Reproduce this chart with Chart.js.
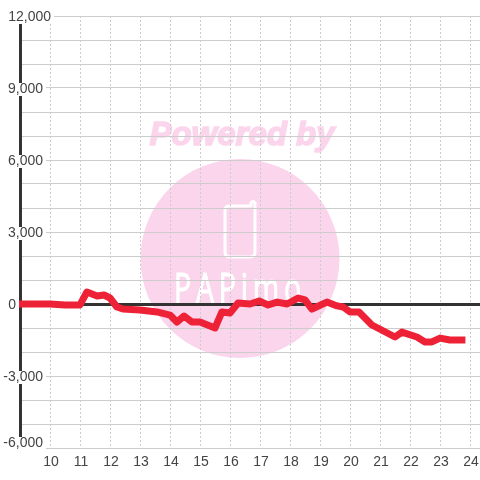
<!DOCTYPE html>
<html>
<head>
<meta charset="utf-8">
<style>
  html, body { margin: 0; padding: 0; background: #fff; }
  canvas { display: block; }
</style>
<script src="https://cdn.jsdelivr.net/npm/chart.js@4/dist/chart.umd.min.js"></script>
</head>
<body>
<canvas id="chart" width="480" height="480"></canvas>
<script>
const hours = [9, 10, 10.5, 11, 11.23, 11.57, 11.8, 12, 12.23, 12.43, 13, 13.57, 14, 14.23, 14.47, 14.73, 15, 15.5, 15.73, 16, 16.27, 16.67, 16.97, 17.27, 17.57, 17.9, 18.27, 18.5, 18.73, 19.23, 19.57, 19.77, 20, 20.3, 20.73, 21.5, 21.73, 22.23, 22.5, 22.73, 23, 23.33, 23.73];
const values = [0, 0, -40, -40, 500, 330, 375, 250, -125, -210, -250, -330, -460, -750, -500, -750, -750, -1000, -330, -375, 40, 0, 125, -40, 80, 0, 250, 170, -210, 80, -80, -125, -330, -330, -875, -1375, -1170, -1375, -1580, -1580, -1420, -1500, -1500];
const xTicks = [9, 10, 11, 12, 13, 14, 15, 16, 17, 18, 19, 20, 21, 22, 23, 24];
const yLabels = [12000, 9000, 6000, 3000, 0, -3000, -6000];

const textColor = '#333';
const labelColor = '#444';
const pink = '#fbd5ec';

// logo behind the grid
const watermark = {
  id: 'watermark',
  beforeDraw(chart) {
    const c = chart.ctx;
    c.save();
    c.fillStyle = pink;
    c.strokeStyle = pink;
    c.beginPath();
    c.arc(240, 258.5, 99.5, 0, Math.PI * 2);
    c.fill();
    c.font = 'italic bold 33px "Liberation Sans"';
    c.textAlign = 'center';
    c.textBaseline = 'alphabetic';
    c.lineWidth = 1.5;
    c.fillText('Powered by', 242, 145);
    c.strokeText('Powered by', 242, 145);

    c.strokeStyle = '#fff';
    c.lineWidth = 3;
    c.lineJoin = 'round';
    c.beginPath();
    c.moveTo(251, 206);
    c.lineTo(229, 206);
    c.quadraticCurveTo(225, 206, 225, 210);
    c.lineTo(225, 252);
    c.quadraticCurveTo(225, 257, 230, 257);
    c.lineTo(250, 257);
    c.quadraticCurveTo(255, 257, 255, 252);
    c.lineTo(255, 203);
    c.quadraticCurveTo(253, 200, 251, 203);
    c.closePath();
    c.stroke();

    c.fillStyle = '#fff';
    c.lineWidth = 1;
    c.font = '42px "Open Sans"';
    c.letterSpacing = '7px';
    c.translate(240, 303);
    c.scale(0.68, 1);
    c.fillText('PAPimo', 0, 0);
    c.strokeText('PAPimo', 0, 0);
    c.restore();
  }
};

// y labels sit inside the plot on small white boxes
const yTickLabels = {
  id: 'yTickLabels',
  afterDraw(chart) {
    const c = chart.ctx;
    const scale = chart.scales.y;
    c.save();
    c.font = '14px "Liberation Sans"';
    c.textAlign = 'right';
    c.textBaseline = 'middle';
    yLabels.forEach(v => {
      const y = scale.getPixelForValue(v) - (v === -6000 ? 6 : 0);
      const right = v === 12000 ? 51 : v === 0 ? 16 : 43;
      const text = v.toLocaleString('en-US');
      const w = c.measureText(text).width;
      c.fillStyle = '#fff';
      c.fillRect(right - w, y - 5, w + 3, 13);
      c.fillStyle = labelColor;
      c.fillText(text, right, y + 1);
    });
    c.restore();
  }
};

new Chart(document.getElementById('chart'), {
  type: 'line',
  data: {
    datasets: [{
      data: hours.map((h, i) => ({ x: h, y: values[i] })),
      borderColor: '#ee2236',
      borderWidth: 7,
      borderCapStyle: 'square',
      borderJoinStyle: 'round',
      pointRadius: 0,
      tension: 0,
      clip: false
    }]
  },
  options: {
    responsive: false,
    animation: false,
    devicePixelRatio: 1,
    layout: { padding: { top: 16 } },
    plugins: { legend: { display: false }, tooltip: { enabled: false } },
    scales: {
      x: {
        type: 'linear',
        min: 9,
        max: 24.333,
        afterBuildTicks: s => { s.ticks = xTicks.map(v => ({ value: v })); },
        afterFit: s => { s.height = 32; s.paddingLeft = 0; s.paddingRight = 0; },
        grid: { color: '#ccc', lineWidth: 1, drawTicks: false },
        border: { display: false, dash: [2, 2] },
        ticks: {
          color: labelColor,
          font: { family: '"Liberation Sans"', size: 14 },
          padding: 6,
          labelOffset: 1,
          maxRotation: 0,
          autoSkip: false,
          callback: v => (v === 9 ? '' : v)
        }
      },
      y: {
        min: -6000,
        max: 12000,
        afterFit: s => { s.width = 20; s.paddingTop = 0; s.paddingBottom = 0; },
        grid: {
          color: ctx => (ctx.tick && ctx.tick.value === 0 ? textColor : '#ccc'),
          lineWidth: ctx => (ctx.tick && ctx.tick.value === 0 ? 3 : 1),
          drawTicks: false
        },
        border: { color: textColor, width: 3 },
        ticks: { stepSize: 1000, display: false, autoSkip: false }
      }
    }
  },
  plugins: [watermark, yTickLabels]
});
</script>
</body>
</html>
